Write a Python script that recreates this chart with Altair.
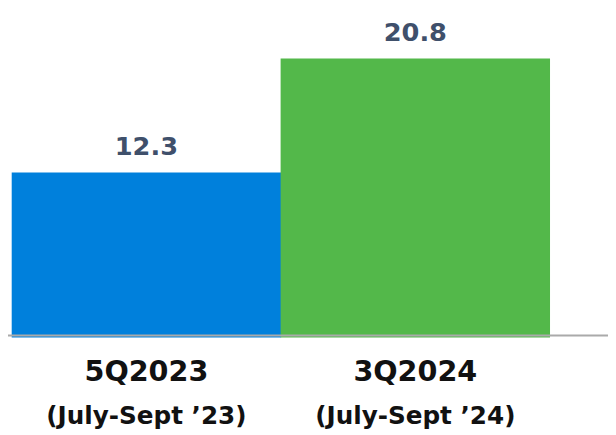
import altair as alt
import pandas as pd

categories = ["5Q2023", "3Q2024"]
subtitles = ["(July-Sept \u201923)", "(July-Sept \u201924)"]
values = [12.3, 20.8]
colors = ["#0080DC", "#53B84A"]

df = pd.DataFrame({"cat": categories, "sub": subtitles, "val": values, "color": colors})

FONT = "DejaVu Sans"

x = alt.X("cat:N", sort=None, axis=None,
          scale=alt.Scale(range=[4, 549], paddingInner=0, paddingOuter=0))
y = alt.Y("val:Q", axis=None, scale=alt.Scale(domain=[0, 24.35], nice=False, zero=True))

base = alt.Chart(df)

bars = base.mark_bar(size=273).encode(
    x=x, y=y, color=alt.Color("color:N", scale=None)
)

vals = base.mark_text(dy=-18, baseline="alphabetic", fontSize=26, font=FONT,
                      fontWeight="bold", color="#3F506B").encode(
    x=x, y=y, text=alt.Text("val:Q", format=".1f")
)

rule = alt.Chart(pd.DataFrame({"v": [0]})).mark_rule(color="#AAAAAA", strokeWidth=2).encode(
    x=alt.value(-8), x2=alt.value(608), y=alt.value(329)
)

line1 = base.mark_text(baseline="alphabetic", fontSize=29, font=FONT,
                       fontWeight="bold", color="#111111").encode(
    x=x, y=alt.value(375), text="cat:N"
)

line2 = base.mark_text(baseline="alphabetic", fontSize=25, font=FONT,
                       fontWeight="bold", color="#111111").encode(
    x=x, y=alt.value(419), text="sub:N"
)

chart = alt.layer(bars, rule, vals, line1, line2).properties(
    width=600, height=331,
    autosize=alt.AutoSizeParams(type="none"),
    padding={"left": 0, "top": 0, "right": 8, "bottom": 96},
).configure_view(stroke=None)

chart.save("out.html", embed_options={"renderer": "svg", "actions": False})
